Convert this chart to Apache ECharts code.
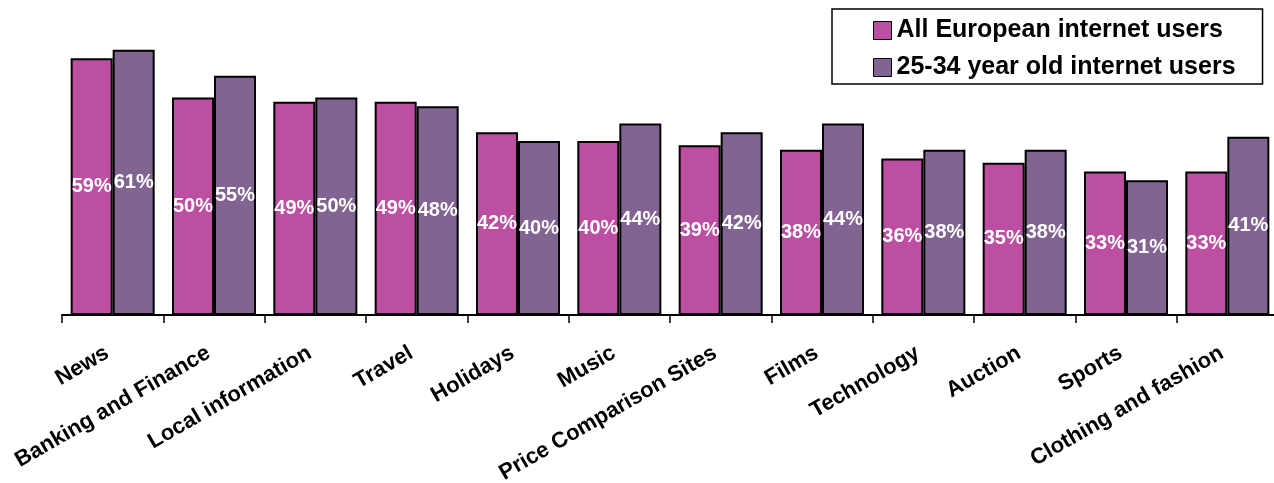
<!DOCTYPE html>
<html>
<head>
<meta charset="utf-8">
<script src="https://cdn.jsdelivr.net/npm/echarts@6/dist/echarts.min.js"></script>
<style>
  html, body { margin: 0; padding: 0; background: #ffffff; }
  #chart { width: 1274px; height: 483px; }
</style>
</head>
<body>
<div id="chart"></div>
<script>
const categories = ['News', 'Banking and Finance', 'Local information', 'Travel', 'Holidays', 'Music',
  'Price Comparison Sites', 'Films', 'Technology', 'Auction', 'Sports', 'Clothing and fashion'];
const seriesNames = ['All European internet users', '25-34 year old internet users'];
const allUsers = [59, 50, 49, 49, 42, 40, 39, 38, 36, 35, 33, 33];
const youngUsers = [61, 55, 50, 48, 40, 44, 42, 44, 38, 38, 31, 41];
const colors = ['#BD4FA2', '#826493'];

const FONT = '"Liberation Sans", Arial, sans-serif';
const chart = echarts.init(document.getElementById('chart'), null, { renderer: 'canvas' });

function barSeries(name, data, color) {
  return {
    name: name,
    type: 'bar',
    data: data,
    barWidth: 42,
    barGap: '0%',
    itemStyle: { color: color, borderColor: '#000000', borderWidth: 2 },
    label: {
      show: true,
      position: 'inside',
      formatter: '{c}%',
      color: '#ffffff',
      fontFamily: FONT,
      fontWeight: 'bold',
      fontSize: 20
    }
  };
}

chart.setOption({
  animation: false,
  backgroundColor: '#ffffff',
  color: colors,
  grid: { left: 62, top: 10.5, width: 1216, height: 304.5, containLabel: false, outerBoundsMode: 'none' },
  legend: {
    orient: 'vertical',
    left: 832,
    top: 9,
    padding: [8, 27, 3, 41],
    borderColor: '#000000',
    borderWidth: 1.5,
    backgroundColor: '#ffffff',
    itemWidth: 18,
    itemHeight: 18,
    itemGap: 10,
    icon: 'rect',
    itemStyle: { borderColor: '#000000', borderWidth: 1 },
    textStyle: { fontFamily: FONT, fontWeight: 'bold', fontSize: 25, color: '#000000', lineHeight: 27 },
    data: seriesNames
  },
  xAxis: {
    type: 'category',
    data: categories,
    axisLine: { show: true, lineStyle: { color: '#000000', width: 2 } },
    axisTick: { show: true, length: 8, lineStyle: { color: '#000000', width: 1.5 } },
    axisLabel: {
      interval: 0,
      rotate: 30,
      margin: 46,
      verticalAlign: 'bottom',
      fontFamily: FONT,
      fontWeight: 'bold',
      fontSize: 22,
      color: '#000000'
    }
  },
  yAxis: {
    type: 'value',
    min: 0,
    max: 70,
    show: false,
    splitLine: { show: false }
  },
  series: [
    barSeries(seriesNames[0], allUsers, colors[0]),
    barSeries(seriesNames[1], youngUsers, colors[1])
  ]
});
</script>
</body>
</html>
